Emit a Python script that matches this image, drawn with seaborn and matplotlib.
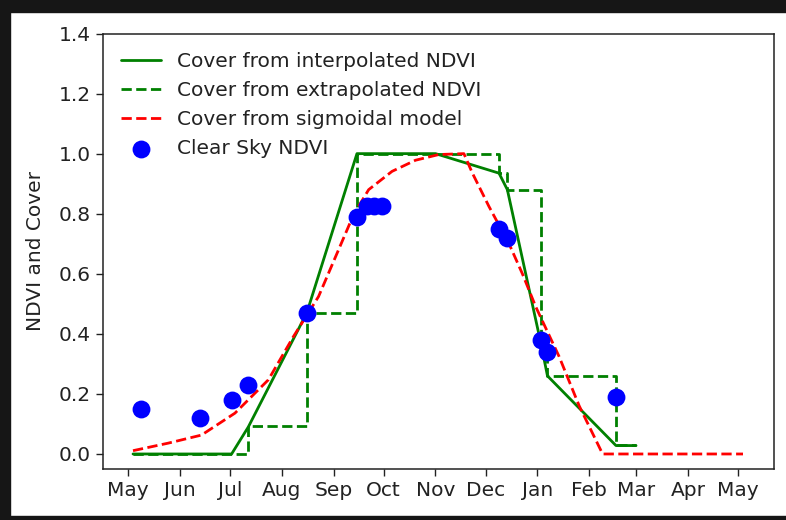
import matplotlib
matplotlib.use("Agg")
import matplotlib.pyplot as plt
import matplotlib.dates as mdates
from matplotlib.patches import Rectangle
import pandas as pd
import seaborn as sns

# Season start; all dates below are day offsets from it
season_start = pd.Timestamp("2017-05-01")

# Clear-sky NDVI observations
obs_day = [8, 43, 62, 72, 107, 137, 143, 147, 152, 222, 227, 247, 251, 292]
obs_ndvi = [0.15, 0.12, 0.18, 0.23, 0.47, 0.79, 0.825, 0.825, 0.825, 0.75, 0.72, 0.38, 0.34, 0.19]

# Cover derived from interpolated NDVI
interp_day = [3, 8, 43, 62, 72, 107, 137, 143, 147, 152, 184, 222, 227, 247, 251, 292, 304]
interp_cover = [0.0, 0.0, 0.0, 0.0, 0.09, 0.47, 1.0, 1.0, 1.0, 1.0, 1.0, 0.935, 0.88, 0.37, 0.26, 0.028, 0.028]

# Cover derived from extrapolated NDVI (held constant until next observation)
extrap_day = [3, 8, 43, 62, 72, 107, 137, 143, 147, 152, 222, 227, 247, 251, 292, 304]
extrap_cover = [0.0, 0.0, 0.0, 0.0, 0.093, 0.469, 1.0, 1.0, 1.0, 1.0, 0.935, 0.88, 0.37, 0.26, 0.03, 0.03]

# Cover from the sigmoidal growth model
sig_day = [3, 24, 44, 64, 84, 99, 114, 126, 135, 144, 158, 172, 186, 201,
           206, 216, 228, 236, 244, 258, 270, 284, 368]
sig_cover = [0.011, 0.036, 0.063, 0.136, 0.247, 0.391, 0.524, 0.68, 0.797, 0.88, 0.941, 0.978, 0.997, 1.0,
             0.936, 0.824, 0.70, 0.60, 0.49, 0.324, 0.16, 0.0, 0.0]

y_ticks = [0.0, 0.2, 0.4, 0.6, 0.8, 1.0, 1.2, 1.4]


def to_dates(days):
    return season_start + pd.to_timedelta(days, unit="D")


sns.set_style("ticks")
plt.rcParams.update({
    "font.family": ["DejaVu Sans"],
    "font.size": 14.5,
    "axes.edgecolor": "#222222",
    "axes.linewidth": 1.1,
    "xtick.color": "#222222",
    "ytick.color": "#222222",
    "xtick.labelcolor": "#222222",
    "ytick.labelcolor": "#222222",
    "xtick.major.size": 5,
    "ytick.major.size": 5,
    "xtick.major.width": 1.0,
    "ytick.major.width": 1.0,
    "text.color": "#222222",
    "axes.labelcolor": "#222222",
})

fig = plt.figure(figsize=(7.86, 5.20), dpi=100)
ax = fig.add_axes([102.5 / 786, 51 / 520, (773.5 - 102.5) / 786, (469 - 33.5) / 520])

sns.lineplot(x=to_dates(interp_day), y=interp_cover, ax=ax, color="g", linewidth=2.0,
             estimator=None, sort=False, label="Cover from interpolated NDVI")
sns.lineplot(x=to_dates(extrap_day), y=extrap_cover, ax=ax, color="g", linewidth=2.0,
             linestyle="--", drawstyle="steps-post", estimator=None, sort=False,
             label="Cover from extrapolated NDVI")
sns.lineplot(x=to_dates(sig_day), y=sig_cover, ax=ax, color="r", linewidth=2.0,
             linestyle="--", estimator=None, sort=False, label="Cover from sigmoidal model")
sns.scatterplot(x=to_dates(obs_day), y=obs_ndvi, ax=ax, color="b", s=165, linewidth=0,
                zorder=5, label="Clear Sky NDVI")

ax.set_xlim(to_dates([-15.25])[0], to_dates([386.25])[0])
ax.set_ylim(-0.05, 1.4)
ax.set_yticks(y_ticks)
ax.set_yticklabels([f"{v:.1f}" for v in y_ticks])
ax.xaxis.set_major_locator(mdates.MonthLocator())
ax.xaxis.set_major_formatter(mdates.DateFormatter("%b"))
ax.tick_params(labelsize=14.5)
ax.set_xlabel("")
ax.set_ylabel("NDVI and Cover", fontsize=14.5)
ax.yaxis.set_label_coords(-0.085, 0.5)
for side in ["top", "right"]:
    ax.spines[side].set_visible(True)

ax.legend(loc="upper left", frameon=False, fontsize=14.5, handlelength=2.0,
          handletextpad=0.8, labelspacing=0.5, borderaxespad=0.5, scatterpoints=1)

# dark frame around the figure (top, left and bottom edges)
frame_color = "#161616"
fig.patches.append(Rectangle((0, 508 / 520), 1, 12 / 520, transform=fig.transFigure,
                             color=frame_color, zorder=10))
fig.patches.append(Rectangle((0, 0), 10 / 786, 1, transform=fig.transFigure,
                             color=frame_color, zorder=10))
fig.patches.append(Rectangle((0, 0), 1, 4 / 520, transform=fig.transFigure,
                             color=frame_color, zorder=10))

fig.savefig("out.png", dpi=100)
